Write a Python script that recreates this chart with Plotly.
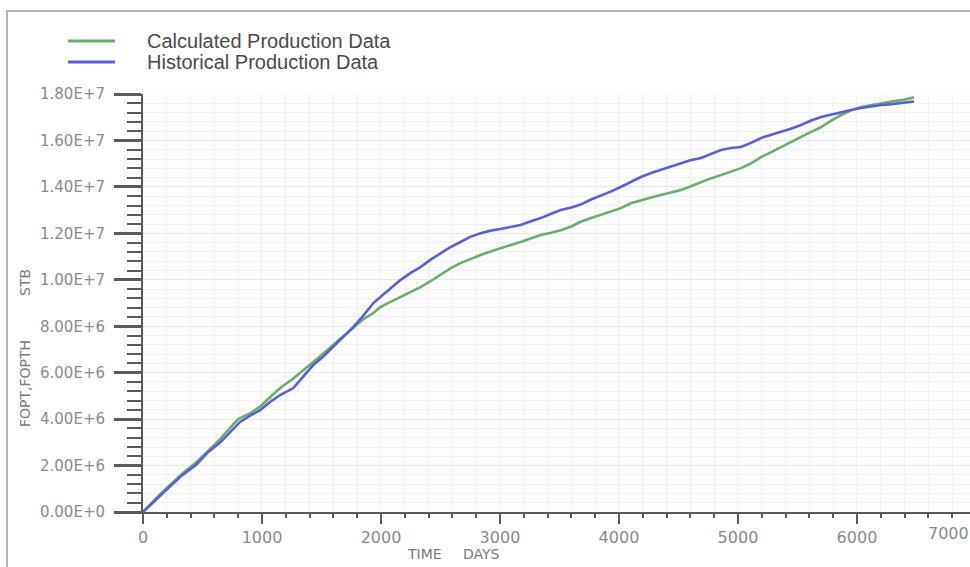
import plotly.graph_objects as go

# Cumulative field oil production (FOPT / FOPTH), million STB vs time in days
days_calc = [0, 150, 337, 450, 540, 650, 732, 800, 900, 985, 1070, 1153, 1263, 1350, 1431,
             1520, 1599, 1690, 1768, 1850, 1936, 1995, 2080, 2163, 2250, 2332, 2420, 2500,
             2580, 2668, 2750, 2837, 2920, 3005, 3090, 3173, 3260, 3342, 3430, 3510, 3600,
             3678, 3760, 3847, 3930, 4015, 4100, 4184, 4270, 4352, 4440, 4520, 4600, 4689,
             4770, 4857, 4940, 5025, 5110, 5194, 5280, 5362, 5450, 5530, 5610, 5699, 5780,
             5867, 5950, 6035, 6120, 6204, 6290, 6372, 6456, 6480]
fopt_calc = [0, 0.80, 1.68, 2.15, 2.60, 3.15, 3.62, 4.00, 4.25, 4.55, 4.95, 5.34, 5.75, 6.10,
             6.46, 6.85, 7.20, 7.58, 7.95, 8.30, 8.57, 8.83, 9.05, 9.26, 9.50, 9.69, 9.95,
             10.21, 10.48, 10.72, 10.90, 11.07, 11.22, 11.37, 11.50, 11.63, 11.78, 11.93,
             12.03, 12.14, 12.30, 12.50, 12.65, 12.79, 12.92, 13.09, 13.30, 13.44, 13.55,
             13.65, 13.76, 13.87, 14.02, 14.21, 14.37, 14.51, 14.66, 14.81, 15.02, 15.29,
             15.50, 15.72, 15.93, 16.15, 16.36, 16.58, 16.85, 17.10, 17.30, 17.44, 17.53,
             17.61, 17.68, 17.74, 17.83, 17.86]

days_hist = [0, 150, 311, 450, 539, 650, 732, 816, 900, 985, 1070, 1153, 1263, 1350, 1431,
             1520, 1599, 1690, 1768, 1850, 1936, 1995, 2080, 2163, 2250, 2332, 2420, 2500,
             2580, 2668, 2750, 2837, 2920, 3005, 3090, 3173, 3260, 3342, 3430, 3510, 3600,
             3678, 3760, 3847, 3930, 4015, 4100, 4184, 4270, 4352, 4440, 4520, 4600, 4689,
             4770, 4857, 4940, 5025, 5110, 5194, 5280, 5362, 5450, 5530, 5610, 5699, 5780,
             5867, 5950, 6035, 6120, 6204, 6290, 6372, 6456, 6480]
fopt_hist = [0, 0.75, 1.51, 2.05, 2.54, 3.00, 3.44, 3.88, 4.15, 4.39, 4.75, 5.04, 5.34, 5.85,
             6.33, 6.72, 7.11, 7.55, 7.97, 8.45, 9.00, 9.26, 9.62, 9.99, 10.30, 10.55, 10.88,
             11.15, 11.40, 11.63, 11.85, 12.01, 12.12, 12.19, 12.27, 12.36, 12.52, 12.66,
             12.85, 13.01, 13.12, 13.24, 13.45, 13.62, 13.80, 14.00, 14.22, 14.43, 14.60,
             14.73, 14.88, 15.03, 15.15, 15.25, 15.42, 15.59, 15.68, 15.72, 15.90, 16.11,
             16.25, 16.37, 16.52, 16.67, 16.85, 17.01, 17.12, 17.23, 17.32, 17.40, 17.47,
             17.53, 17.57, 17.61, 17.66, 17.68]

series_names = ["Calculated Production Data", "Historical Production Data"]
series_colors = ["#69ae69", "#5a60d4"]

y_tick_vals = [0, 2e6, 4e6, 6e6, 8e6, 1e7, 1.2e7, 1.4e7, 1.6e7, 1.8e7]
y_tick_text = ["0.00E+0", "2.00E+6", "4.00E+6", "6.00E+6", "8.00E+6",
               "1.00E+7", "1.20E+7", "1.40E+7", "1.60E+7", "1.80E+7"]
x_tick_vals = [0, 1000, 2000, 3000, 4000, 5000, 6000]
x_tick_text = ["0", "1000", "2000", "3000", "4000", "5000", "6000"]
x_last_label = "7000"

# plot-area geometry in pixels
FIG_W, FIG_H = 970, 567
L, R, T, B = 143, 0, 94, 55
PW, PH = FIG_W - L - R, FIG_H - T - B


def px(x):
    return (x - L) / PW


def py(y):
    return (FIG_H - B - y) / PH


tick_font = dict(family="DejaVu Sans", size=15, color="#8a8a8a")
axis_col = "#5a5a5a"

fig = go.Figure()
fig.add_trace(go.Scatter(x=days_calc, y=[v * 1e6 for v in fopt_calc], mode="lines",
                         name=series_names[0], line=dict(color=series_colors[0], width=2.6),
                         showlegend=False))
fig.add_trace(go.Scatter(x=days_hist, y=[v * 1e6 for v in fopt_hist], mode="lines",
                         name=series_names[1], line=dict(color=series_colors[1], width=2.6),
                         showlegend=False))

fig.update_layout(
    width=FIG_W, height=FIG_H,
    margin=dict(l=L, r=R, t=T, b=B, pad=0),
    paper_bgcolor="white", plot_bgcolor="#fdfdfe",
    xaxis=dict(range=[0, 6950], tickvals=x_tick_vals, ticktext=x_tick_text,
               showline=True, linecolor=axis_col, linewidth=2,
               ticks="outside", ticklen=10, tickwidth=2, tickcolor=axis_col,
               tickfont=dict(family="DejaVu Sans", size=16, color="#8a8a8a"),
               showgrid=False, zeroline=False,
               minor=dict(dtick=200, tick0=0, ticks="outside", ticklen=4, tickwidth=1.5,
                          tickcolor=axis_col, showgrid=True, gridcolor="#f0f0f5", gridwidth=1)),
    yaxis=dict(range=[0, 1.8005e7], tickvals=y_tick_vals, ticktext=y_tick_text,
               showline=True, linecolor=axis_col, linewidth=2,
               ticks="outside", ticklen=27, tickwidth=3, tickcolor=axis_col,
               tickfont=tick_font, ticklabelstandoff=6,
               showgrid=True, gridcolor="#e8e8ef", gridwidth=1, zeroline=False,
               minor=dict(dtick=4e5, tick0=0, ticks="outside", ticklen=14, tickwidth=2,
                          tickcolor=axis_col, showgrid=True, gridcolor="#f1f1f6", gridwidth=1)),
    showlegend=False,
)

shapes = [
    # outer frame of the chart panel
    dict(type="rect", xref="paper", yref="paper", x0=px(7), x1=px(990), y0=py(590), y1=py(11),
         line=dict(color="#b4b4b4", width=2), fillcolor="rgba(0,0,0,0)", layer="below"),
]
annotations = []

# legend drawn as line samples with labels
legend_rows = [41, 62]
for name, color, yy in zip(series_names, series_colors, legend_rows):
    shapes.append(dict(type="line", xref="paper", yref="paper", x0=px(68), x1=px(115),
                       y0=py(yy), y1=py(yy), line=dict(color=color, width=3)))
    annotations.append(dict(text=name, xref="paper", yref="paper", x=px(145), y=py(yy),
                            xanchor="left", yanchor="middle", showarrow=False,
                            font=dict(family="Liberation Sans", size=20, color="#4a4a4a")))

# axis titles
title_font = dict(family="DejaVu Sans", size=14, color="#7a7a7a")
annotations += [
    dict(text="FOPT,FOPTH", xref="paper", yref="paper", x=px(25), y=py(384), textangle=-90,
         xanchor="center", yanchor="middle", showarrow=False, font=title_font),
    dict(text="STB", xref="paper", yref="paper", x=px(25), y=py(283), textangle=-90,
         xanchor="center", yanchor="middle", showarrow=False, font=title_font),
    dict(text="TIME", xref="paper", yref="paper", x=px(424), y=py(554),
         xanchor="center", yanchor="middle", showarrow=False, font=title_font),
    dict(text="DAYS", xref="paper", yref="paper", x=px(481), y=py(554),
         xanchor="center", yanchor="middle", showarrow=False, font=title_font),
    dict(text=x_last_label, xref="paper", yref="paper", x=px(948), y=py(533),
         xanchor="center", yanchor="middle", showarrow=False,
         font=dict(family="DejaVu Sans", size=16, color="#8a8a8a")),
]

fig.update_layout(shapes=shapes, annotations=annotations)
fig.write_html("out.html")
